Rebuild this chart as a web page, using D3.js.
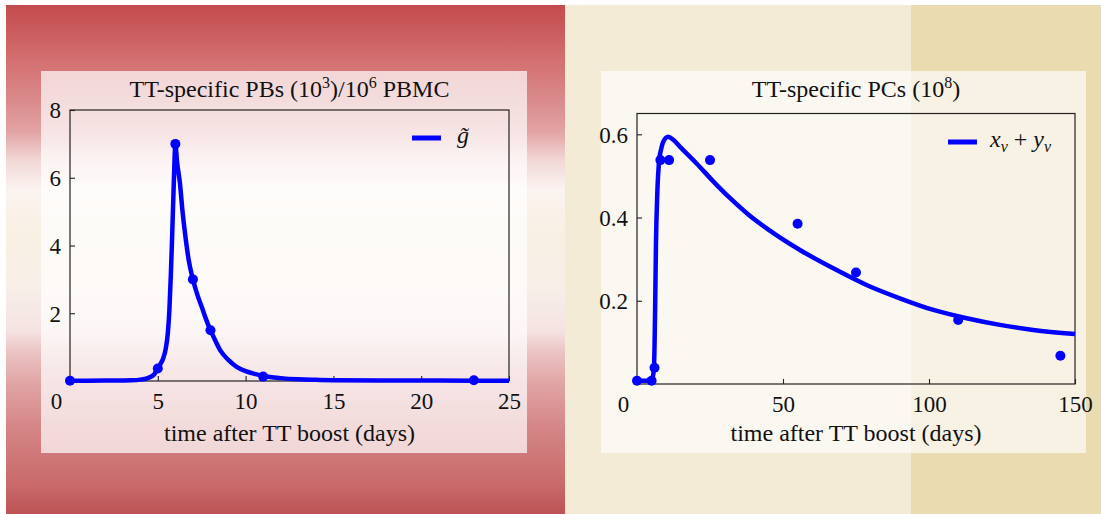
<!DOCTYPE html>
<html>
<head>
<meta charset="utf-8">
<script src="https://cdn.jsdelivr.net/npm/d3@7"></script>
<style>
  html, body { margin: 0; padding: 0; background: #ffffff; }
  svg { display: block; }
  text { font-family: "Liberation Serif", "Times New Roman", serif; fill: #111; }
</style>
</head>
<body>
<svg id="chart" width="1101" height="514"></svg>
<script>
// ---------------- data ----------------
// Left panel: TT-specific PBs
const pbDataDays   = [0, 5, 6, 7, 8, 11, 23];
const pbDataValues = [0.01, 0.37, 7.0, 3.0, 1.5, 0.13, 0.02];
const pbCurveDays   = [0, 2, 3, 3.5, 4, 4.5, 4.8, 5.0, 5.15, 5.3, 5.45, 5.57, 5.66, 5.74, 5.8, 5.86, 5.92, 6.0,
                       6.1, 6.26, 6.4, 6.55, 6.75, 7.0, 7.25, 7.5, 7.75, 8.0, 8.25, 8.54, 9.0, 9.49, 10.0, 10.5, 11.0, 12.0, 13.0, 14.0, 15.0, 18.0, 21.0, 25.0];
const pbCurveValues = [0.01, 0.012, 0.015, 0.02, 0.04, 0.1, 0.2, 0.37, 0.5, 0.66, 0.95, 1.41, 2.1, 3.1, 4.0, 5.0, 6.0, 7.0,
                       6.45, 5.84, 5.05, 4.36, 3.6, 3.0, 2.55, 2.19, 1.82, 1.5, 1.22, 0.92, 0.63, 0.42, 0.29, 0.21, 0.15, 0.085, 0.05, 0.035, 0.025, 0.015, 0.012, 0.01];

// Right panel: TT-specific PCs
const pcDataDays   = [0, 5, 6, 8, 11, 25, 55, 75, 110, 145];
const pcDataValues = [0.008, 0.008, 0.039, 0.538, 0.538, 0.538, 0.385, 0.268, 0.154, 0.068];
const pcCurveDays   = [0, 3, 5.0, 5.5, 5.8, 6.0, 6.2, 6.5, 6.95, 7.6, 8.3, 9.0, 10.7, 12.4, 15, 20.4, 26.1, 31.8, 38, 44.4, 55.8, 67.2, 78.6, 90, 101.5, 112.9, 124.3, 135.7, 150];
const pcCurveValues = [0.008, 0.008, 0.01, 0.02, 0.038, 0.09, 0.178, 0.338, 0.458, 0.538, 0.565, 0.582, 0.594, 0.587, 0.568, 0.53, 0.487, 0.447, 0.408, 0.374, 0.322, 0.278, 0.238, 0.206, 0.178, 0.158, 0.142, 0.13, 0.12];

// tick values / labels
const pbXTicks = [0, 5, 10, 15, 20, 25];
const pbYTicks = [2, 4, 6, 8];
const pcXTicks = [0, 50, 100, 150];
const pcYTicks = [0.2, 0.4, 0.6];

const xLabelText = "time after TT boost (days)";

// ---------------- drawing ----------------
const svg = d3.select("#chart");
const defs = svg.append("defs");
const BLUE = "#0000ff";

// backgrounds
const grad = defs.append("linearGradient").attr("id", "redGrad")
  .attr("x1", 0).attr("y1", 0).attr("x2", 0).attr("y2", 1);
[[0, "#c34b4d"], [0.108, "#d36f70"], [0.187, "#da8a8b"], [0.25, "#e3a4a5"], [0.305, "#f1d8d6"],
 [0.363, "#fbf3f0"], [0.448, "#f8f0e2"], [0.56, "#f7eee8"], [0.64, "#f5e3e2"], [0.678, "#ecc6c6"],
 [0.747, "#e0a3a3"], [0.84, "#d48384"], [0.94, "#c96a6b"], [1, "#bd5355"]]
  .forEach(([o, c]) => grad.append("stop").attr("offset", o).attr("stop-color", c));

svg.append("rect").attr("x", 6).attr("y", 5).attr("width", 559).attr("height", 509).attr("fill", "url(#redGrad)");
svg.append("rect").attr("x", 565).attr("y", 5).attr("width", 346).attr("height", 509).attr("fill", "#f4ebd7");
svg.append("rect").attr("x", 911).attr("y", 5).attr("width", 190).attr("height", 509).attr("fill", "#ebdbb1");

// inner panels
svg.append("rect").attr("x", 41).attr("y", 71).attr("width", 486).attr("height", 382)
  .attr("fill", "#ffffff").attr("fill-opacity", 0.7);
svg.append("rect").attr("x", 601).attr("y", 71).attr("width", 485).attr("height", 382)
  .attr("fill", "#ffffff").attr("fill-opacity", 0.65);

function panel(opts) {
  const { x, y, xTicks, yTicks, yFmt, title, cDays, cVals, dDays, dVals, legend } = opts;
  const g = svg.append("g");
  const [x0, x1] = x.range();
  const [y0, y1] = y.range();

  // frame
  g.append("rect").attr("x", x0).attr("y", y1).attr("width", x1 - x0).attr("height", y0 - y1)
    .attr("fill", "none").attr("stroke", "#222").attr("stroke-width", 1.2);

  // bottom axis (inward ticks)
  const xa = g.append("g").attr("transform", `translate(0,${y0})`)
    .call(d3.axisBottom(x).tickValues(xTicks).tickSize(-5).tickPadding(0).tickFormat(d3.format("d")));
  xa.attr("font-family", null).attr("font-size", null);
  xa.select(".domain").remove();
  xa.selectAll(".tick line").attr("stroke", "#222").attr("stroke-width", 1.1);
  xa.selectAll(".tick text").attr("y", 28).attr("dy", 0)
    .style("font-size", "23px").attr("fill", "#111")
    .attr("dx", d => d === 0 ? -14 : 0);

  // left axis
  const ya = g.append("g").attr("transform", `translate(${x0},0)`)
    .call(d3.axisLeft(y).tickValues(yTicks).tickSize(-5).tickPadding(9).tickFormat(yFmt));
  ya.attr("font-family", null).attr("font-size", null);
  ya.select(".domain").remove();
  ya.selectAll(".tick line").attr("stroke", "#222").attr("stroke-width", 1.1);
  ya.selectAll(".tick text").style("font-size", "23px")
    .attr("fill", "#111").attr("dy", "0.34em");

  // title
  const t = g.append("text").attr("x", (x0 + x1) / 2).attr("y", 97).attr("text-anchor", "middle")
    .style("font-size", "24px");
  title.forEach(p => {
    const s = t.append("tspan").text(p.t);
    if (p.sup) s.attr("dy", -9).style("font-size", "16px");
    if (p.after) s.attr("dy", 9);
  });

  // x label
  g.append("text").attr("x", (x0 + x1) / 2).attr("y", 441).attr("text-anchor", "middle")
    .style("font-size", "24px").text(xLabelText);

  // curve
  const line = d3.line().x(d => x(d[0])).y(d => y(d[1])).curve(d3.curveMonotoneX);
  g.append("path").datum(cDays.map((d, i) => [d, cVals[i]]))
    .attr("d", line).attr("fill", "none").attr("stroke", BLUE).attr("stroke-width", 4.5)
    .attr("stroke-linejoin", "round");

  // dots
  g.selectAll("circle.pt").data(dDays.map((d, i) => [d, dVals[i]])).enter().append("circle")
    .attr("class", "pt").attr("cx", d => x(d[0])).attr("cy", d => y(d[1])).attr("r", 5).attr("fill", BLUE);

  legend(g);
}

panel({
  x: d3.scaleLinear().domain([0, 25]).range([70, 509]),
  y: d3.scaleLinear().domain([0, 8]).range([381, 110]),
  xTicks: pbXTicks, yTicks: pbYTicks, yFmt: d3.format("d"),
  title: [{ t: "TT-specific PBs (10" }, { t: "3", sup: true }, { t: ")/10", after: true }, { t: "6", sup: true }, { t: " PBMC", after: true }],
  cDays: pbCurveDays, cVals: pbCurveValues, dDays: pbDataDays, dVals: pbDataValues,
  legend: g => {
    g.append("line").attr("x1", 412).attr("x2", 441).attr("y1", 138).attr("y2", 138)
      .attr("stroke", BLUE).attr("stroke-width", 5);
    g.append("text").attr("x", 457).attr("y", 143).style("font-size", "24px").style("font-style", "italic").text("g\u0303");
  }
});

panel({
  x: d3.scaleLinear().domain([0, 150]).range([637, 1075]),
  y: d3.scaleLinear().domain([0, 0.65]).range([384, 113.5]),
  xTicks: pcXTicks, yTicks: pcYTicks, yFmt: d3.format(".1f"),
  title: [{ t: "TT-specific PCs (10" }, { t: "8", sup: true }, { t: ")", after: true }],
  cDays: pcCurveDays, cVals: pcCurveValues, dDays: pcDataDays, dVals: pcDataValues,
  legend: g => {
    g.append("line").attr("x1", 948).attr("x2", 977).attr("y1", 142).attr("y2", 142)
      .attr("stroke", BLUE).attr("stroke-width", 5);
    const t = g.append("text").attr("x", 990).attr("y", 147).style("font-size", "24px");
    t.append("tspan").style("font-style", "italic").text("x");
    t.append("tspan").style("font-style", "italic").style("font-size", "16px").attr("dy", 5).text("v");
    t.append("tspan").attr("dy", -5).text(" + ");
    t.append("tspan").style("font-style", "italic").text("y");
    t.append("tspan").style("font-style", "italic").style("font-size", "16px").attr("dy", 5).text("v");
  }
});
</script>
</body>
</html>
